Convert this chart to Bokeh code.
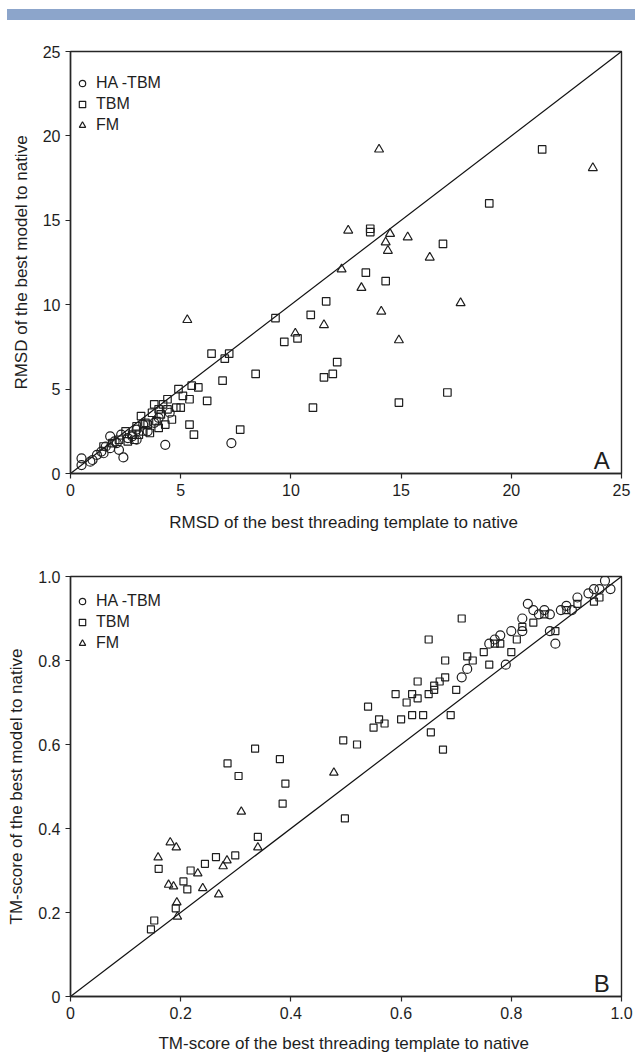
from bokeh.plotting import figure
from bokeh.models import Range1d, Legend, LegendItem, Label, FixedTicker, Div
from bokeh.layouts import column
from bokeh.embed import file_html
from bokeh.resources import INLINE

# ---------------- Panel A data (RMSD) ----------------
a_ha_x = [0.5, 0.5, 0.9, 1.0, 1.2, 1.4, 1.5, 1.6, 1.8, 1.8, 2.0, 2.1, 2.2, 2.3, 2.4, 2.6, 2.8, 3.0, 3.0, 3.3, 3.5, 3.8, 4.0, 4.3, 4.5, 7.3]
a_ha_y = [0.5, 0.9, 0.7, 0.8, 1.1, 1.3, 1.2, 1.6, 1.5, 2.2, 1.9, 1.8, 1.4, 2.3, 0.95, 2.1, 2.2, 2.6, 2.0, 2.9, 2.5, 3.0, 3.3, 1.7, 3.6, 1.8]

a_tbm_x = [1.5, 1.9, 2.2, 2.5, 2.6, 2.8, 2.9, 3.0, 3.1, 3.2, 3.3, 3.4, 3.5, 3.6, 3.7, 3.8, 3.9, 4.0, 4.0, 4.1,
           4.2, 4.3, 4.4, 4.4, 4.6, 4.8, 4.9, 5.0, 5.1, 5.4, 5.4, 5.5, 5.6, 5.8, 6.2, 6.4, 6.9, 7.0, 7.2, 7.7,
           8.4, 9.3, 9.7, 10.3, 10.9, 11.0, 11.5, 11.6, 11.9, 12.1, 13.4, 13.6, 13.6, 14.3, 14.9, 16.9, 17.1, 19.0, 21.4]
a_tbm_y = [1.6, 1.8, 2.0, 2.5, 1.9, 2.3, 2.0, 2.8, 2.3, 3.4, 2.5, 3.0, 2.9, 2.4, 3.6, 4.1, 3.1, 2.7, 3.8, 3.5,
           4.1, 2.9, 3.8, 4.4, 3.2, 3.9, 5.0, 3.9, 4.6, 4.4, 2.9, 5.2, 2.3, 5.1, 4.3, 7.1, 5.5, 6.8, 7.1, 2.6,
           5.9, 9.2, 7.8, 8.0, 9.4, 3.9, 5.7, 10.2, 5.9, 6.6, 11.9, 14.5, 14.3, 11.4, 4.2, 13.6, 4.8, 16.0, 19.2]

a_fm_x = [5.3, 10.2, 11.5, 12.3, 12.6, 13.2, 14.0, 14.1, 14.3, 14.4, 14.5, 14.9, 15.3, 16.3, 17.7, 23.7]
a_fm_y = [9.1, 8.3, 8.8, 12.1, 14.4, 11.0, 19.2, 9.6, 13.7, 13.2, 14.2, 7.9, 14.0, 12.8, 10.1, 18.1]

a_ticks = [0, 5, 10, 15, 20, 25]

# ---------------- Panel B data (TM-score) ----------------
b_ha_x = [0.71, 0.72, 0.76, 0.77, 0.78, 0.79, 0.80, 0.82, 0.82, 0.83, 0.84, 0.85, 0.86, 0.87, 0.87, 0.88,
          0.89, 0.90, 0.91, 0.92, 0.94, 0.95, 0.96, 0.97, 0.98]
b_ha_y = [0.76, 0.78, 0.84, 0.85, 0.86, 0.79, 0.87, 0.90, 0.87, 0.935, 0.92, 0.91, 0.92, 0.91, 0.87, 0.84,
          0.92, 0.93, 0.92, 0.95, 0.96, 0.97, 0.97, 0.99, 0.97]

b_tbm_x = [0.146, 0.152, 0.160, 0.191, 0.205, 0.212, 0.218, 0.244, 0.264, 0.285, 0.299, 0.305, 0.335, 0.34,
           0.38, 0.385, 0.39, 0.495, 0.498, 0.52, 0.54, 0.55, 0.56, 0.57, 0.59, 0.60, 0.61, 0.62, 0.62,
           0.63, 0.63, 0.64, 0.65, 0.654, 0.66, 0.66, 0.67, 0.676, 0.68, 0.68, 0.69, 0.70, 0.71, 0.72,
           0.73, 0.75, 0.76, 0.77, 0.78, 0.80, 0.81, 0.82, 0.84, 0.86, 0.88, 0.90, 0.92, 0.95, 0.96, 0.65]
b_tbm_y = [0.160, 0.181, 0.304, 0.210, 0.274, 0.255, 0.300, 0.316, 0.332, 0.555, 0.336, 0.525, 0.59, 0.38,
           0.565, 0.459, 0.507, 0.61, 0.424, 0.60, 0.69, 0.64, 0.66, 0.65, 0.72, 0.66, 0.70, 0.72, 0.67,
           0.75, 0.71, 0.67, 0.72, 0.629, 0.73, 0.74, 0.75, 0.588, 0.80, 0.76, 0.67, 0.73, 0.90, 0.81,
           0.80, 0.82, 0.79, 0.84, 0.84, 0.82, 0.85, 0.88, 0.89, 0.91, 0.87, 0.92, 0.935, 0.94, 0.95, 0.85]

b_fm_x = [0.159, 0.178, 0.181, 0.187, 0.192, 0.193, 0.194, 0.231, 0.240, 0.269, 0.277, 0.284, 0.31, 0.34, 0.478]
b_fm_y = [0.331, 0.266, 0.367, 0.262, 0.355, 0.224, 0.190, 0.293, 0.258, 0.243, 0.310, 0.324, 0.44, 0.355, 0.533]

b_ticks = [0, 0.2, 0.4, 0.6, 0.8, 1.0]
b_tick_labels = ["0", "0.2", "0.4", "0.6", "0.8", "1.0"]

legend_labels = ["HA -TBM", "TBM", "FM"]

FONT = "Liberation Sans"
INK = "#1e1e1e"
AXC = "#262626"
BAR = "#8CA5CB"

# decorative header bar
bar = Div(text='<div style="background-color:%s;height:11px;width:628px;'
               'margin-left:7px;margin-top:9px;"></div>' % BAR,
          width=635, height=20, margin=(0, 0, 0, 0))


def style(p, ticks, labels, xtitle, ytitle, xstand):
    p.grid.visible = False
    p.outline_line_color = AXC
    p.outline_line_width = 1.4
    p.background_fill_color = "white"
    for ax in (p.xaxis[0], p.yaxis[0]):
        ax.ticker = FixedTicker(ticks=ticks)
        if labels is not None:
            ax.major_label_overrides = {t: l for t, l in zip(ticks, labels)}
        ax.minor_tick_line_color = None
        ax.major_tick_in = 0
        ax.major_tick_out = 5
        ax.axis_line_color = AXC
        ax.axis_line_width = 1.4
        ax.major_tick_line_color = AXC
        ax.major_tick_line_width = 1.2
        ax.major_label_text_font = FONT
        ax.major_label_text_font_size = "16px"
        ax.major_label_text_color = INK
        ax.axis_label_text_font = FONT
        ax.axis_label_text_font_size = "17px"
        ax.axis_label_text_font_style = "normal"
        ax.axis_label_text_color = INK
        ax.major_label_standoff = 5
    p.xaxis[0].axis_label = xtitle
    p.yaxis[0].axis_label = ytitle
    p.xaxis[0].axis_label_standoff = xstand
    p.yaxis[0].axis_label_standoff = 9


def panel(p, ha, tbm, fm, sizes, frame_h, top_gap):
    r1 = p.scatter(ha[0], ha[1], marker="circle", size=sizes[0], fill_color=None,
                   line_color=INK, line_width=1.2)
    r2 = p.scatter(tbm[0], tbm[1], marker="square", size=sizes[1], fill_color=None,
                   line_color=INK, line_width=1.2)
    r3 = p.scatter(fm[0], fm[1], marker="triangle", size=sizes[2], fill_color=None,
                   line_color=INK, line_width=1.2)
    # legend box: 3 rows of 21 px + 2*5 px padding = 73 px tall
    leg = Legend(items=[LegendItem(label=legend_labels[0], renderers=[r1]),
                        LegendItem(label=legend_labels[1], renderers=[r2]),
                        LegendItem(label=legend_labels[2], renderers=[r3])],
                 location=(4, frame_h - top_gap - 73), margin=0, padding=5, spacing=0,
                 glyph_width=16, glyph_height=16, label_height=21, label_standoff=6,
                 label_text_font=FONT, label_text_font_size="16px", label_text_color=INK,
                 background_fill_alpha=0, border_line_color=None)
    p.add_layout(leg)


# ---------------- Top panel ----------------
p1 = figure(width=635, height=533, toolbar_location=None, output_backend="svg",
            x_range=Range1d(0, 25), y_range=Range1d(0, 25),
            min_border_left=70, min_border_right=14, min_border_top=31, min_border_bottom=80)
p1.line([a_ticks[0], a_ticks[-1]], [a_ticks[0], a_ticks[-1]], line_color="#111111", line_width=1.2)
panel(p1, (a_ha_x, a_ha_y), (a_tbm_x, a_tbm_y), (a_fm_x, a_fm_y), (9, 7.5, 9), 422, 11)
style(p1, a_ticks, None, "RMSD of the best threading  template to native",
      "RMSD of the best model to native", 14)
p1.add_layout(Label(x=24.1, y=0.0, text="A", text_align="center", text_baseline="bottom",
                    text_font=FONT, text_font_size="24px", text_color=INK))

# ---------------- Bottom panel ----------------
p2 = figure(width=635, height=505, toolbar_location=None, output_backend="svg",
            x_range=Range1d(0, 1), y_range=Range1d(0, 1),
            min_border_left=70, min_border_right=13, min_border_top=23, min_border_bottom=62)
p2.line([b_ticks[0], b_ticks[-1]], [b_ticks[0], b_ticks[-1]], line_color="#111111", line_width=1.2)
panel(p2, (b_ha_x, b_ha_y), (b_tbm_x, b_tbm_y), (b_fm_x, b_fm_y), (9, 7, 8.5), 420, 4)
style(p2, b_ticks, b_tick_labels, "TM-score of the best threading  template to native",
      "TM-score of the best model to native", 12)
p2.add_layout(Label(x=0.964, y=0.0, text="B", text_align="center", text_baseline="bottom",
                    text_font=FONT, text_font_size="24px", text_color=INK))

layout = column(bar, p1, p2, spacing=0)
open("out.html", "w").write(file_html(layout, INLINE))
